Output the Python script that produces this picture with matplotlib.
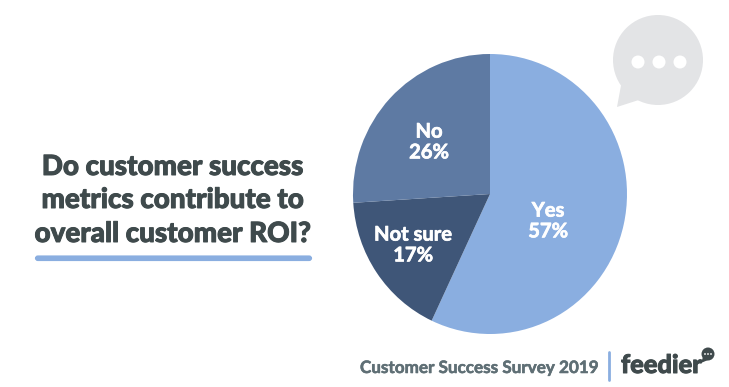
import matplotlib
matplotlib.use('Agg')
import matplotlib.pyplot as plt
import matplotlib.patheffects as pe
from matplotlib.patches import Circle, Polygon, FancyBboxPatch

W, H = 729, 387

# pie data
labels = ['Yes', 'Not sure', 'No']
values = [57, 17, 26]
colors = ['#8aaee0', '#3f5678', '#5e7aa3']
label_pos = [(548, 221), (413, 245), (429, 142)]

title_lines = ['Do customer success', 'metrics contribute to', 'overall customer ROI?']
title_baselines = [175, 208, 242]
footer = 'Customer Success Survey 2019'
logo = 'feedier'

plt.rcParams['font.family'] = ['Lato', 'DejaVu Sans']


# pixel y in the picture counts from the top
def py(y):
    return H - y


fig = plt.figure(figsize=(W / 100, H / 100), dpi=100)
ax = fig.add_axes([0, 0, 1, 1], zorder=1)
ax.set_xlim(0, W)
ax.set_ylim(0, H)
ax.axis('off')

# speech bubble behind the pie
ax.add_patch(Circle((658, py(60)), 45, fc='#e3e4e6', ec='none'))
ax.add_patch(Polygon([(622, py(80)), (617, py(107)), (645, py(98))], fc='#e3e4e6', ec='none'))
for x in [638, 659, 680]:
    ax.add_patch(Circle((x, py(62)), 6.5, fc='white', ec='none'))

# pie gets its own axes, the original is a little taller than wide
pie_ax = fig.add_axes([353 / W, py(334) / H, 274 / W, 280 / H], zorder=2)
pie_ax.pie(values, colors=colors, startangle=90, counterclock=False, radius=1,
           wedgeprops={'linewidth': 0})
pie_ax.set_aspect('auto')
pie_ax.set_xlim(-1, 1)
pie_ax.set_ylim(-1, 1)
pie_ax.axis('off')

# overlay for text on top of the pie
top = fig.add_axes([0, 0, 1, 1], zorder=3)
top.set_xlim(0, W)
top.set_ylim(0, H)
top.axis('off')

# Lato bold is thinner than the original font, so the texts get a thin stroke
for name, value, (x, y) in zip(labels, values, label_pos):
    t = top.text(x, py(y), f'{name}\n{value}%', color='white', fontsize=14.5, fontweight='bold',
                 ha='center', va='center', linespacing=1.05)
    t.set_path_effects([pe.Stroke(linewidth=0.5, foreground='white'), pe.Normal()])

# question on the left
for line, base in zip(title_lines, title_baselines):
    t = top.text(173, py(base), line, color='#3f4a4c', fontsize=20, fontweight='black',
                 ha='center', va='baseline')
    t.set_path_effects([pe.Stroke(linewidth=0.7, foreground='#3f4a4c'), pe.Normal()])
top.add_patch(FancyBboxPatch((37, py(259)), 273, 1.5, boxstyle='round,pad=0,rounding_size=1',
                             fc='#8aaee0', ec='#8aaee0', lw=3))

# footer
t = top.text(360, py(373), footer, color='#5f6f75', fontsize=12.3, fontweight='bold', ha='left', va='baseline')
t.set_path_effects([pe.Stroke(linewidth=0.4, foreground='#5f6f75'), pe.Normal()])
top.plot([609, 609], [py(352), py(380)], color='#8aaee0', lw=2, solid_capstyle='round')
t = top.text(621, py(373), logo, color='#3f4a4c', fontsize=18.3, fontweight='black', ha='left', va='baseline')
t.set_path_effects([pe.Stroke(linewidth=0.7, foreground='#3f4a4c'), pe.Normal()])
top.add_patch(Circle((708, py(354)), 6.5, fc='#3f4a4c', ec='none'))
top.add_patch(Polygon([(703, py(357)), (701, py(363)), (708, py(360))], fc='#3f4a4c', ec='none'))
for x in [705, 708, 711]:
    top.add_patch(Circle((x, py(354)), 0.9, fc='white', ec='none'))

fig.savefig('out.png', dpi=100)
